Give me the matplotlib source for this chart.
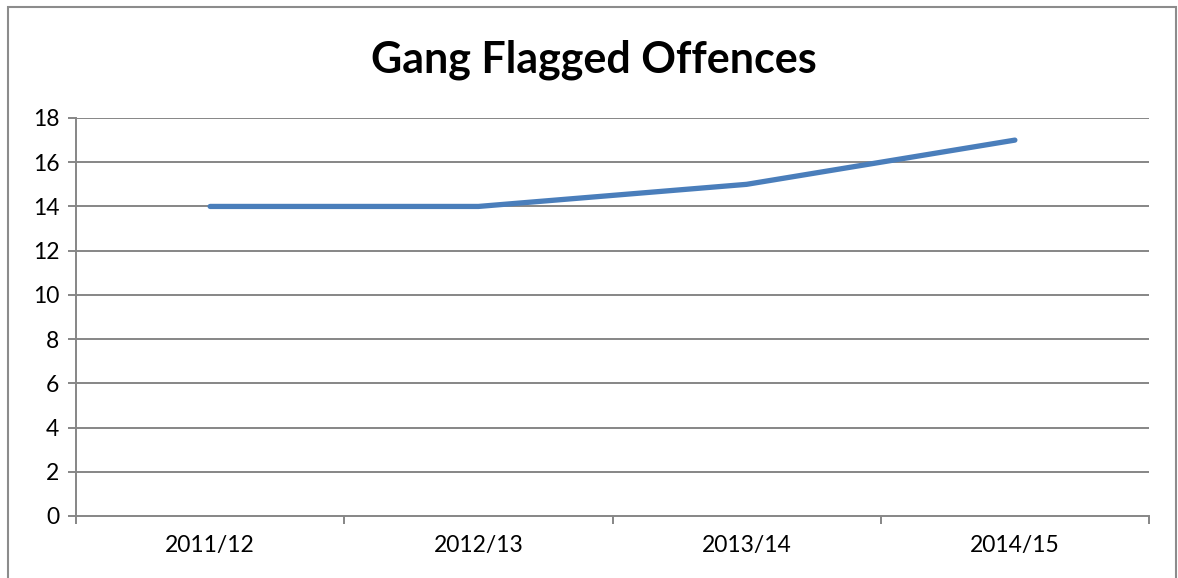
import matplotlib.pyplot as plt
from matplotlib.patches import Rectangle

plt.rcParams['font.family'] = ['Lato', 'DejaVu Sans']

years = ['2011/12', '2012/13', '2013/14', '2014/15']
offences = [14, 14, 15, 17]
y_ticks = list(range(0, 19, 2))

grid_grey = '#868686'
line_blue = '#4a7ebb'

fig = plt.figure(figsize=(11.78, 5.78), dpi=100)
ax = fig.add_axes([76 / 1178, 1 - 516 / 578, (1149 - 76) / 1178, (516 - 118) / 578])

# outer chart frame (bottom edge runs off the figure)
fig.patches.append(Rectangle((8 / 1178, -0.05), (1176 - 8) / 1178, 1.05 - 7 / 578,
                             transform=fig.transFigure, fill=False,
                             edgecolor='#8c8c8c', linewidth=1.5))

x = range(len(years))
ax.plot(x, offences, color=line_blue, linewidth=3.8, solid_capstyle='round',
        solid_joinstyle='round', zorder=3)

ax.set_xlim(-0.5, len(years) - 0.5)
ax.set_ylim(0, 18)
ax.set_yticks(y_ticks)
ax.set_xticks(x)
ax.set_xticklabels(years)
ax.set_xticks([i - 0.5 for i in range(len(years) + 1)], minor=True)

for y in y_ticks[1:]:
    ax.axhline(y, color=grid_grey, linewidth=1.4, zorder=1)

for side in ['top', 'right']:
    ax.spines[side].set_visible(False)
for side in ['left', 'bottom']:
    ax.spines[side].set_color(grid_grey)
    ax.spines[side].set_linewidth(1.4)

ax.tick_params(axis='y', length=6, width=1.4, color=grid_grey, labelsize=16.5, pad=6)
ax.tick_params(axis='x', which='major', length=0, labelsize=16.5, pad=14)
ax.tick_params(axis='x', which='minor', length=6, width=1.4, color=grid_grey)

fig.text(594 / 1178, 1 - 60 / 578, 'Gang Flagged Offences', ha='center', va='center',
         fontsize=31, fontweight='bold')

fig.savefig('out.png', dpi=100)
